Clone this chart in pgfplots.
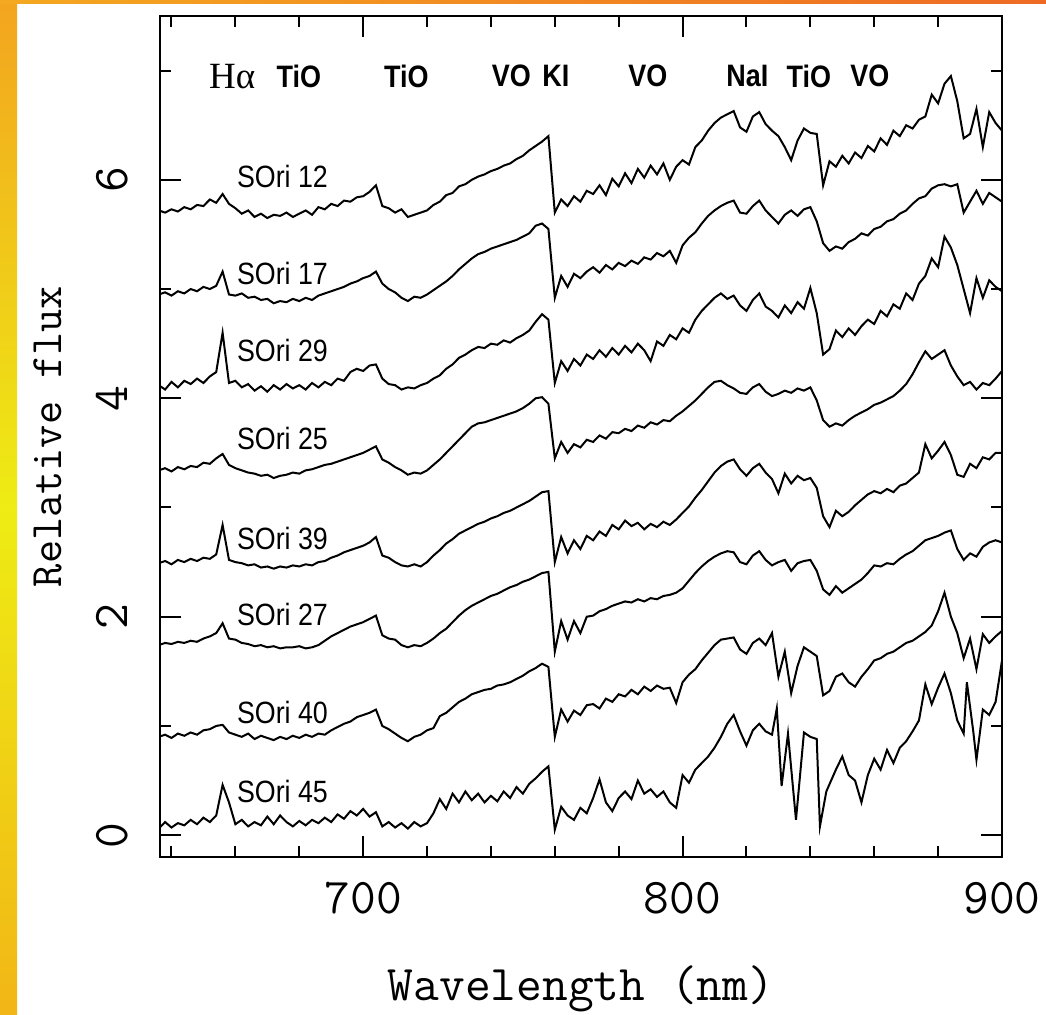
\documentclass[border=0pt]{standalone}
\usepackage{fontspec}
\usepackage{pgfplots}
\usepackage{pgfplotstable}
\pgfplotsset{compat=1.18}
\newfontfamily\helv[FakeStretch=0.87]{Liberation Sans}
\newfontfamily\tms{Liberation Serif}
\definecolor{bandA}{HTML}{F3A41F}
\definecolor{bandB}{HTML}{EEEC14}
\definecolor{bandC}{HTML}{F2B616}
\definecolor{topL}{HTML}{F4A820}
\definecolor{topR}{HTML}{EE6A24}

\pgfplotstableread{
x y
636 5.72
638 5.70
640 5.73
642 5.71
644 5.75
646 5.73
648 5.77
650 5.76
652 5.82
654 5.79
656 5.87
658 5.78
660 5.74
662 5.69
664 5.72
666 5.66
668 5.69
670 5.65
672 5.68
674 5.67
676 5.70
678 5.66
680 5.69
682 5.72
684 5.68
686 5.75
688 5.73
690 5.78
692 5.76
694 5.81
696 5.80
698 5.84
700 5.85
702 5.89
704 5.95
706 5.76
708 5.74
710 5.70
712 5.73
714 5.66
716 5.68
718 5.70
720 5.72
722 5.77
724 5.80
726 5.86
728 5.88
730 5.94
732 5.96
734 6.00
736 6.03
738 6.05
740 6.08
742 6.10
744 6.13
746 6.15
748 6.19
750 6.22
752 6.27
754 6.31
756 6.35
758 6.40
760 5.70
762 5.82
764 5.76
766 5.85
768 5.80
770 5.90
772 5.87
774 5.95
776 5.86
778 6.01
780 5.94
782 6.06
784 5.97
786 6.10
788 6.02
790 6.13
792 6.05
794 6.15
796 6.00
798 6.12
800 6.18
802 6.14
804 6.30
806 6.36
808 6.45
810 6.52
812 6.57
814 6.60
816 6.63
818 6.48
820 6.44
822 6.58
824 6.62
826 6.51
828 6.45
830 6.40
832 6.30
834 6.18
836 6.36
838 6.47
840 6.43
842 6.42
844 5.95
846 6.17
848 6.12
850 6.22
852 6.15
854 6.25
856 6.20
858 6.31
860 6.26
862 6.38
864 6.32
866 6.45
868 6.40
870 6.50
872 6.47
874 6.55
876 6.58
878 6.78
880 6.70
882 6.88
884 6.95
886 6.72
888 6.38
890 6.42
892 6.65
894 6.30
896 6.62
898 6.52
900 6.45
}\sA

\pgfplotstableread{
x y
636 4.95
638 4.97
640 4.94
642 4.98
644 4.96
646 5.00
648 4.98
650 5.02
652 5.00
654 5.03
656 5.16
658 4.95
660 4.94
662 4.96
664 4.92
666 4.93
668 4.90
670 4.91
672 4.87
674 4.89
676 4.88
678 4.91
680 4.89
682 4.92
684 4.90
686 4.94
688 4.96
690 4.98
692 5.00
694 5.02
696 5.05
698 5.07
700 5.10
702 5.12
704 5.16
706 5.05
708 5.00
710 4.97
712 4.92
714 4.89
716 4.93
718 4.92
720 4.95
722 4.99
724 5.03
726 5.07
728 5.12
730 5.18
732 5.23
734 5.28
736 5.32
738 5.34
740 5.37
742 5.39
744 5.41
746 5.43
748 5.45
750 5.48
752 5.51
754 5.58
756 5.60
758 5.55
760 4.92
762 5.12
764 5.02
766 5.14
768 5.10
770 5.16
772 5.20
774 5.15
776 5.22
778 5.18
780 5.24
782 5.21
784 5.26
786 5.23
788 5.29
790 5.27
792 5.33
794 5.30
796 5.35
798 5.24
800 5.40
802 5.47
804 5.52
806 5.60
808 5.67
810 5.72
812 5.76
814 5.79
816 5.81
818 5.70
820 5.69
822 5.76
824 5.81
826 5.72
828 5.66
830 5.60
832 5.68
834 5.72
836 5.67
838 5.73
840 5.75
842 5.62
844 5.42
846 5.35
848 5.39
850 5.37
852 5.43
854 5.46
856 5.51
858 5.49
860 5.55
862 5.57
864 5.62
866 5.64
868 5.69
870 5.72
872 5.78
874 5.83
876 5.85
878 5.92
880 5.95
882 5.96
884 5.94
886 5.96
888 5.70
890 5.80
892 5.90
894 5.78
896 5.88
898 5.84
900 5.80
}\sB

\pgfplotstableread{
x y
636 4.12
638 4.08
640 4.15
642 4.10
644 4.16
646 4.13
648 4.18
650 4.14
652 4.20
654 4.24
656 4.60
658 4.14
660 4.16
662 4.10
664 4.13
666 4.07
668 4.11
670 4.06
672 4.12
674 4.08
676 4.13
678 4.09
680 4.12
682 4.08
684 4.14
686 4.10
688 4.15
690 4.12
692 4.18
694 4.16
696 4.24
698 4.27
700 4.25
702 4.30
704 4.31
706 4.18
708 4.13
710 4.12
712 4.08
714 4.10
716 4.09
718 4.12
720 4.14
722 4.18
724 4.21
726 4.27
728 4.31
730 4.37
732 4.40
734 4.44
736 4.47
738 4.46
740 4.50
742 4.49
744 4.53
746 4.51
748 4.55
750 4.58
752 4.62
754 4.70
756 4.77
758 4.72
760 4.14
762 4.34
764 4.25
766 4.36
768 4.30
770 4.40
772 4.36
774 4.44
776 4.38
778 4.46
780 4.40
782 4.48
784 4.42
786 4.50
788 4.44
790 4.34
792 4.52
794 4.48
796 4.58
798 4.54
800 4.64
802 4.60
804 4.72
806 4.80
808 4.86
810 4.92
812 4.96
814 4.91
816 4.94
818 4.85
820 4.80
822 4.90
824 4.96
826 4.84
828 4.80
830 4.74
832 4.85
834 4.78
836 4.88
838 4.82
840 5.01
842 4.78
844 4.40
846 4.45
848 4.62
850 4.56
852 4.64
854 4.58
856 4.66
858 4.72
860 4.68
862 4.80
864 4.75
866 4.86
868 4.82
870 4.96
872 4.90
874 5.05
876 5.12
878 5.28
880 5.20
882 5.48
884 5.38
886 5.22
888 5.00
890 4.78
892 5.10
894 4.92
896 5.08
898 5.02
900 4.98
}\sC

\pgfplotstableread{
x y
636 3.34
638 3.36
640 3.33
642 3.37
644 3.35
646 3.38
648 3.37
650 3.41
652 3.40
654 3.45
656 3.49
658 3.39
660 3.36
662 3.34
664 3.32
666 3.31
668 3.29
670 3.30
672 3.27
674 3.29
676 3.30
678 3.32
680 3.31
682 3.34
684 3.35
686 3.37
688 3.39
690 3.40
692 3.42
694 3.44
696 3.46
698 3.48
700 3.50
702 3.53
704 3.56
706 3.44
708 3.41
710 3.37
712 3.34
714 3.30
716 3.32
718 3.31
720 3.34
722 3.39
724 3.44
726 3.50
728 3.56
730 3.62
732 3.68
734 3.74
736 3.77
738 3.78
740 3.80
742 3.82
744 3.84
746 3.86
748 3.88
750 3.91
752 3.95
754 4.00
756 4.01
758 3.95
760 3.45
762 3.60
764 3.50
766 3.58
768 3.55
770 3.62
772 3.60
774 3.66
776 3.63
778 3.69
780 3.68
782 3.72
784 3.70
786 3.75
788 3.73
790 3.78
792 3.76
794 3.80
796 3.79
798 3.84
800 3.88
802 3.93
804 3.98
806 4.04
808 4.10
810 4.15
812 4.16
814 4.12
816 4.09
818 4.05
820 4.04
822 4.10
824 4.13
826 4.06
828 4.02
830 4.04
832 4.07
834 4.05
836 4.09
838 4.07
840 4.10
842 3.98
844 3.80
846 3.74
848 3.77
850 3.75
852 3.80
854 3.84
856 3.87
858 3.90
860 3.94
862 3.96
864 3.99
866 4.02
868 4.07
870 4.13
872 4.22
874 4.33
876 4.43
878 4.36
880 4.40
882 4.44
884 4.30
886 4.20
888 4.12
890 4.15
892 4.08
894 4.14
896 4.12
898 4.18
900 4.25
}\sD

\pgfplotstableread{
x y
636 2.49
638 2.51
640 2.48
642 2.52
644 2.50
646 2.53
648 2.51
650 2.54
652 2.53
654 2.57
656 2.84
658 2.52
660 2.50
662 2.49
664 2.47
666 2.48
668 2.45
670 2.46
672 2.44
674 2.46
676 2.45
678 2.47
680 2.46
682 2.48
684 2.47
686 2.50
688 2.51
690 2.54
692 2.56
694 2.59
696 2.61
698 2.63
700 2.65
702 2.68
704 2.73
706 2.56
708 2.54
710 2.50
712 2.47
714 2.46
716 2.48
718 2.46
720 2.50
722 2.56
724 2.61
726 2.67
728 2.71
730 2.76
732 2.79
734 2.82
736 2.85
738 2.87
740 2.90
742 2.92
744 2.95
746 2.97
748 3.00
750 3.03
752 3.06
754 3.10
756 3.14
758 3.15
760 2.50
762 2.73
764 2.58
766 2.70
768 2.62
770 2.74
772 2.70
774 2.78
776 2.74
778 2.84
780 2.80
782 2.88
784 2.83
786 2.86
788 2.80
790 2.85
792 2.82
794 2.87
796 2.84
798 2.89
800 2.95
802 3.01
804 3.09
806 3.16
808 3.24
810 3.32
812 3.38
814 3.42
816 3.44
818 3.35
820 3.29
822 3.36
824 3.40
826 3.32
828 3.26
830 3.13
832 3.31
834 3.22
836 3.29
838 3.25
840 3.27
842 3.18
844 2.92
846 2.82
848 2.97
850 2.92
852 2.96
854 3.02
856 3.07
858 3.12
860 3.15
862 3.13
864 3.17
866 3.14
868 3.20
870 3.22
872 3.27
874 3.32
876 3.58
878 3.45
880 3.52
882 3.60
884 3.48
886 3.30
888 3.28
890 3.40
892 3.36
894 3.46
896 3.44
898 3.50
900 3.50
}\sE

\pgfplotstableread{
x y
636 1.74
638 1.76
640 1.75
642 1.77
644 1.76
646 1.78
648 1.77
650 1.80
652 1.82
654 1.85
656 1.94
658 1.80
660 1.79
662 1.76
664 1.75
666 1.73
668 1.74
670 1.72
672 1.73
674 1.71
676 1.72
678 1.72
680 1.73
682 1.71
684 1.72
686 1.74
688 1.78
690 1.82
692 1.85
694 1.88
696 1.91
698 1.93
700 1.95
702 1.98
704 2.01
706 1.83
708 1.80
710 1.79
712 1.74
714 1.72
716 1.74
718 1.73
720 1.76
722 1.80
724 1.85
726 1.89
728 1.95
730 2.01
732 2.06
734 2.10
736 2.13
738 2.16
740 2.19
742 2.21
744 2.24
746 2.27
748 2.29
750 2.32
752 2.34
754 2.37
756 2.40
758 2.41
760 1.68
762 1.96
764 1.79
766 1.96
768 1.85
770 2.00
772 2.01
774 2.05
776 2.07
778 2.10
780 2.12
782 2.14
784 2.13
786 2.16
788 2.14
790 2.17
792 2.16
794 2.19
796 2.20
798 2.22
800 2.26
802 2.33
804 2.40
806 2.46
808 2.51
810 2.55
812 2.58
814 2.60
816 2.59
818 2.50
820 2.48
822 2.56
824 2.60
826 2.52
828 2.47
830 2.50
832 2.52
834 2.42
836 2.49
838 2.51
840 2.52
842 2.42
844 2.25
846 2.20
848 2.28
850 2.22
852 2.26
854 2.30
856 2.34
858 2.40
860 2.47
862 2.46
864 2.49
866 2.48
868 2.53
870 2.57
872 2.60
874 2.65
876 2.70
878 2.72
880 2.74
882 2.77
884 2.79
886 2.62
888 2.52
890 2.58
892 2.55
894 2.64
896 2.68
898 2.70
900 2.68
}\sF

\pgfplotstableread{
x y
636 0.90
638 0.92
640 0.89
642 0.93
644 0.91
646 0.94
648 0.92
650 0.96
652 0.97
654 1.00
656 1.01
658 0.94
660 0.92
662 0.90
664 0.93
666 0.88
668 0.91
670 0.89
672 0.87
674 0.90
676 0.88
678 0.91
680 0.89
682 0.92
684 0.90
686 0.93
688 0.92
690 0.96
692 0.99
694 1.02
696 1.04
698 1.08
700 1.10
702 1.12
704 1.15
706 1.00
708 0.97
710 0.93
712 0.89
714 0.86
716 0.90
718 0.92
720 0.96
722 0.98
724 1.09
726 1.12
728 1.17
730 1.22
732 1.25
734 1.29
736 1.31
738 1.33
740 1.34
742 1.37
744 1.38
746 1.40
748 1.43
750 1.46
752 1.50
754 1.53
756 1.57
758 1.54
760 0.90
762 1.15
764 1.04
766 1.14
768 1.10
770 1.19
772 1.20
774 1.16
776 1.25
778 1.22
780 1.29
782 1.27
784 1.33
786 1.29
788 1.36
790 1.32
792 1.37
794 1.34
796 1.35
798 1.21
800 1.40
802 1.47
804 1.52
806 1.60
808 1.67
810 1.74
812 1.79
814 1.80
816 1.81
818 1.70
820 1.66
822 1.76
824 1.80
826 1.74
828 1.85
830 1.45
832 1.68
834 1.30
836 1.55
838 1.72
840 1.68
842 1.64
844 1.28
846 1.32
848 1.45
850 1.48
852 1.40
854 1.36
856 1.45
858 1.52
860 1.60
862 1.62
864 1.66
866 1.68
868 1.72
870 1.76
872 1.78
874 1.82
876 1.86
878 1.92
880 2.05
882 2.22
884 2.00
886 1.85
888 1.62
890 1.80
892 1.52
894 1.84
896 1.76
898 1.82
900 1.87
}\sG

\pgfplotstableread{
x y
636 0.06
638 0.12
640 0.07
642 0.11
644 0.09
646 0.14
648 0.10
650 0.16
652 0.12
654 0.18
656 0.46
658 0.30
660 0.10
662 0.14
664 0.08
666 0.12
668 0.09
670 0.17
672 0.10
674 0.18
676 0.12
678 0.08
680 0.13
682 0.09
684 0.14
686 0.11
688 0.16
690 0.12
692 0.19
694 0.15
696 0.22
698 0.18
700 0.24
702 0.17
704 0.21
706 0.08
708 0.12
710 0.07
712 0.11
714 0.06
716 0.12
718 0.08
720 0.11
722 0.20
724 0.33
726 0.24
728 0.38
730 0.30
732 0.40
734 0.32
736 0.38
738 0.30
740 0.36
742 0.31
744 0.40
746 0.34
748 0.44
750 0.38
752 0.47
754 0.52
756 0.58
758 0.63
760 0.05
762 0.26
764 0.18
766 0.14
768 0.25
770 0.20
772 0.34
774 0.51
776 0.30
778 0.22
780 0.34
782 0.40
784 0.33
786 0.50
788 0.38
790 0.42
792 0.35
794 0.40
796 0.30
798 0.25
800 0.55
802 0.48
804 0.60
806 0.66
808 0.72
810 0.80
812 0.90
814 1.02
816 1.10
818 0.95
820 0.82
822 0.96
824 1.02
826 0.95
828 0.92
829.5 1.16
831 0.45
833 0.93
835.5 0.14
838 0.94
840 0.90
842 0.88
843 0.08
845 0.40
848 0.60
850 0.72
852 0.55
854 0.50
856 0.30
858 0.55
860 0.70
862 0.60
864 0.78
866 0.66
868 0.80
870 0.86
872 0.95
874 1.05
876 1.38
878 1.20
880 1.35
882 1.48
884 1.30
886 1.05
888 0.93
889 1.40
891 0.95
892 0.69
894 1.15
896 1.10
898 1.22
900 1.60
}\sH

\begin{document}
\begin{tikzpicture}
\useasboundingbox (0,0) rectangle (523bp,507.5bp);
\fill[white] (0,0) rectangle (523bp,507.5bp);
\shade[top color=bandA, bottom color=bandC, middle color=bandB] (0,0) rectangle (8.5bp,507.5bp);
\shade[left color=topL, right color=topR] (0,505.5bp) rectangle (523bp,507.5bp);
\begin{axis}[
  at={(80bp,79bp)}, anchor=south west,
  width=421bp, height=420.5bp, scale only axis,
  xmin=636.4, xmax=900, ymin=-0.2, ymax=7.5,
  xtick={700,800,900}, minor xtick={640,660,680,720,740,760,780,820,840,860,880},
  ytick={0,2,4,6}, minor ytick={1,3,5,7},
  major tick length=10.5bp, minor tick length=5.5bp,
  tick align=inside,
  axis line style={line width=1.2bp},
  every tick/.style={black, line width=1bp},
  /pgf/number format/assume math mode=true,
  tick label style={font=\ttfamily\fontsize{25bp}{25bp}\selectfont},
  xticklabel style={anchor=north, inner xsep=0pt, inner ysep=12.5bp},
  yticklabel style={rotate=90, anchor=south, inner xsep=0pt, inner ysep=16bp},
  xlabel={Wavelength (nm)},
  ylabel={Relative flux},
  xlabel style={font=\ttfamily\fontsize{25bp}{25bp}\selectfont, at={(axis description cs:0.5,-0.1712)}, anchor=base},
  ylabel style={font=\ttfamily\fontsize{22.5bp}{22.5bp}\selectfont, at={(axis description cs:-0.1164,0.5)}, anchor=base, rotate=0},
]
\addplot[black, solid, mark=none, line width=1bp] table {\sA};
\addplot[black, solid, mark=none, line width=1bp] table {\sB};
\addplot[black, solid, mark=none, line width=1bp] table {\sC};
\addplot[black, solid, mark=none, line width=1bp] table {\sD};
\addplot[black, solid, mark=none, line width=1bp] table {\sE};
\addplot[black, solid, mark=none, line width=1bp] table {\sF};
\addplot[black, solid, mark=none, line width=1bp] table {\sG};
\addplot[black, solid, mark=none, line width=1bp] table {\sH};

\node[font=\tms\fontsize{18.5bp}{18.5bp}\selectfont] at (axis cs:659,6.95) {Hα};
\begin{scope}[every node/.style={font=\helv\bfseries\fontsize{15.5bp}{15.5bp}\selectfont}]
\node at (axis cs:679.9,6.95) {TiO};
\node at (axis cs:713.5,6.95) {TiO};
\node at (axis cs:746.4,6.95) {VO};
\node at (axis cs:760.3,6.95) {KI};
\node at (axis cs:789.1,6.95) {VO};
\node at (axis cs:820.3,6.95) {NaI};
\node at (axis cs:839.5,6.95) {TiO};
\node at (axis cs:858.6,6.95) {VO};
\end{scope}
\begin{scope}[every node/.style={font=\helv\fontsize{15.4bp}{15.4bp}\selectfont, anchor=west, inner sep=0pt}]
\node at (axis cs:660.4,6.03) {SOri 12};
\node at (axis cs:660.4,5.14) {SOri 17};
\node at (axis cs:660.4,4.44) {SOri 29};
\node at (axis cs:660.4,3.63) {SOri 25};
\node at (axis cs:660.4,2.72) {SOri 39};
\node at (axis cs:660.4,2.02) {SOri 27};
\node at (axis cs:660.4,1.12) {SOri 40};
\node at (axis cs:660.4,0.40) {SOri 45};
\end{scope}
\end{axis}
\end{tikzpicture}
\end{document}
